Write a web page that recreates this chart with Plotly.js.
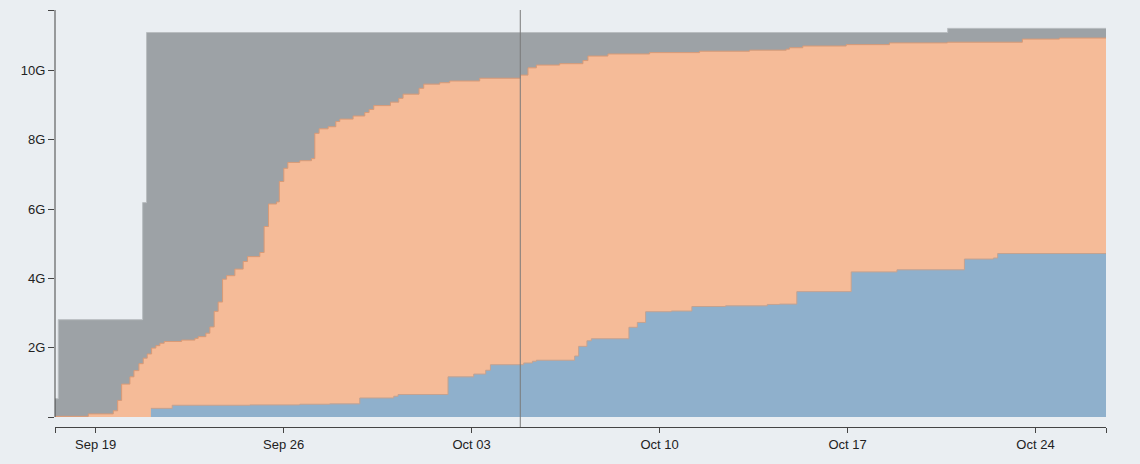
<!DOCTYPE html>
<html>
<head>
<meta charset="utf-8">
<script src="https://cdn.plot.ly/plotly-3.0.1.min.js"></script>
<style>
  html, body { margin: 0; padding: 0; background: #eaeef2; }
  #chart { width: 1140px; height: 464px; }
</style>
</head>
<body>
<div id="chart"></div>
<script>
// ---- Data (values in gigabytes) ----
const totalTimes = ["2021-09-17 11:40","2021-09-17 14:35","2021-09-20 18:00","2021-09-20 21:30","2021-10-20 17:30","2021-10-26 15:00"];
const totalValues = [0.53, 2.81, 6.19, 11.10, 11.22, 11.22];

const orangeTimes = [
  "2021-09-17 11:40","2021-09-18 17:25","2021-09-19 15:45","2021-09-19 19:40","2021-09-19 23:13",
  "2021-09-20 06:38","2021-09-20 10:13","2021-09-20 14:41","2021-09-20 18:31","2021-09-20 22:05",
  "2021-09-21 02:01","2021-09-21 05:52","2021-09-21 09:26","2021-09-21 13:16","2021-09-22 04:49",
  "2021-09-22 16:42","2021-09-22 19:38","2021-09-23 02:31","2021-09-23 06:05","2021-09-23 09:56",
  "2021-09-23 13:30","2021-09-23 17:26","2021-09-23 21:01","2021-09-24 04:25","2021-09-24 11:50",
  "2021-09-24 15:46","2021-09-25 02:45","2021-09-25 06:35","2021-09-25 10:31","2021-09-25 17:40",
  "2021-09-25 20:10","2021-09-26 00:11","2021-09-26 03:46","2021-09-26 14:29","2021-09-27 00:56",
  "2021-09-27 03:53","2021-09-27 07:43","2021-09-27 15:46","2021-09-27 22:38","2021-09-28 02:13",
  "2021-09-28 14:05","2021-09-29 00:32","2021-09-29 04:23","2021-09-29 08:35","2021-09-29 23:29",
  "2021-09-30 06:55","2021-09-30 10:45","2021-10-01 01:02","2021-10-01 05:14","2021-10-01 19:32",
  "2021-10-02 04:28","2021-10-03 07:16","2021-10-04 19:37","2021-10-05 02:24","2021-10-05 09:54",
  "2021-10-06 06:43","2021-10-07 03:31","2021-10-07 08:00","2021-10-08 01:51","2021-10-09 15:06",
  "2021-10-11 11:46","2021-10-13 08:25","2021-10-14 17:12","2021-10-14 20:09","2021-10-15 08:02",
  "2021-10-16 22:47","2021-10-18 13:28","2021-10-20 17:16","2021-10-23 12:16","2021-10-24 21:19",
  "2021-10-26 15:00"
];
const orangeValues = [
  0.02, 0.09, 0.18, 0.48, 0.95,
  1.16, 1.34, 1.54, 1.70, 1.82,
  1.99, 2.06, 2.13, 2.18, 2.22,
  2.27, 2.32, 2.42, 2.60, 3.05,
  3.32, 3.98, 4.08, 4.27, 4.49,
  4.63, 4.75, 5.50, 6.15, 6.21,
  6.80, 7.18, 7.35, 7.40, 7.46,
  8.19, 8.32, 8.38, 8.53, 8.60,
  8.69, 8.79, 8.88, 8.99, 9.09,
  9.20, 9.32, 9.49, 9.61, 9.65,
  9.70, 9.78, 9.87, 10.08, 10.16,
  10.20, 10.29, 10.42, 10.48, 10.52,
  10.56, 10.59, 10.62, 10.66, 10.71,
  10.75, 10.80, 10.82, 10.91, 10.94,
  10.96
];

const blueTimes = [
  "2021-09-21 01:23","2021-09-21 20:25","2021-09-24 17:49","2021-09-26 14:29","2021-09-27 17:17",
  "2021-09-28 20:04","2021-09-30 02:26","2021-09-30 06:17","2021-10-02 02:56","2021-10-03 01:54",
  "2021-10-03 12:37","2021-10-03 16:49","2021-10-04 22:34","2021-10-05 06:20","2021-10-05 09:54",
  "2021-10-06 20:07","2021-10-06 23:41","2021-10-07 07:06","2021-10-07 11:02","2021-10-08 20:37",
  "2021-10-09 04:07","2021-10-09 11:32","2021-10-10 10:29","2021-10-11 04:53","2021-10-12 10:59",
  "2021-10-14 00:14","2021-10-14 11:13","2021-10-15 02:40","2021-10-17 03:16","2021-10-18 20:10",
  "2021-10-21 08:28","2021-10-22 10:22","2021-10-22 14:12","2021-10-26 15:00"
];
const blueValues = [
  0.25, 0.34, 0.35, 0.37, 0.38,
  0.55, 0.60, 0.65, 1.16, 1.24,
  1.35, 1.51, 1.56, 1.61, 1.64,
  1.76, 2.04, 2.20, 2.26, 2.59,
  2.73, 3.04, 3.06, 3.19, 3.21,
  3.25, 3.26, 3.62, 4.19, 4.25,
  4.56, 4.59, 4.72, 4.72
];

const markerTime = "2021-10-04 19:30";

const xTickVals = ["2021-09-17 11:40","2021-09-19","2021-09-26","2021-10-03","2021-10-10","2021-10-17","2021-10-24","2021-10-26 15:00"];
const xTickText = ["","Sep 19","Sep 26","Oct 03","Oct 10","Oct 17","Oct 24",""];
const yTickVals = [0, 2, 4, 6, 8, 10, 11.75];
const yTickText = ["","2G","4G","6G","8G","10G",""];

// ---- Traces ----
const traces = [
  {
    x: totalTimes, y: totalValues, type: "scatter", mode: "lines",
    line: { shape: "hv", color: "#b9bdc1", width: 1 },
    fill: "tozeroy", fillcolor: "#9da2a6", hoverinfo: "skip"
  },
  {
    x: orangeTimes, y: orangeValues, type: "scatter", mode: "lines",
    line: { shape: "hv", color: "#d99a76", width: 1 },
    fill: "tozeroy", fillcolor: "#f5bb98", hoverinfo: "skip"
  },
  {
    x: blueTimes, y: blueValues, type: "scatter", mode: "lines",
    line: { shape: "hv", color: "#c4a290", width: 1 },
    fill: "tozeroy", fillcolor: "#8fb0cc", hoverinfo: "skip"
  }
];

const font = { family: "'Liberation Sans', Arial, Helvetica, sans-serif", size: 13, color: "#222" };

const layout = {
  width: 1140, height: 464,
  margin: { l: 55, r: 34, t: 10, b: 37 },
  paper_bgcolor: "#eaeef2",
  plot_bgcolor: "#eaeef2",
  showlegend: false,
  font: font,
  xaxis: {
    type: "date",
    range: [xTickVals[0], xTickVals[xTickVals.length - 1]],
    tickmode: "array", tickvals: xTickVals, ticktext: xTickText,
    showgrid: false, zeroline: false,
    showline: true, linecolor: "#444", linewidth: 1,
    ticks: "outside", ticklen: 5, tickcolor: "#444", tickwidth: 1,
    tickfont: font, fixedrange: true
  },
  yaxis: {
    range: [-0.288, 11.75],
    tickmode: "array", tickvals: yTickVals, ticktext: yTickText,
    showgrid: false, zeroline: false, showline: false,
    ticks: "outside", ticklen: 6, tickcolor: "#444", tickwidth: 1,
    tickfont: font, fixedrange: true
  },
  shapes: [
    { type: "line", xref: "paper", yref: "y", x0: 0, x1: 0, y0: 0, y1: 11.75,
      line: { color: "#444", width: 1 } },
    { type: "line", xref: "x", yref: "paper", x0: markerTime, x1: markerTime, y0: 0, y1: 1,
      line: { color: "#7a7a7a", width: 1 } }
  ]
};

Plotly.newPlot("chart", traces, layout, { displayModeBar: false, staticPlot: true });
</script>
</body>
</html>
